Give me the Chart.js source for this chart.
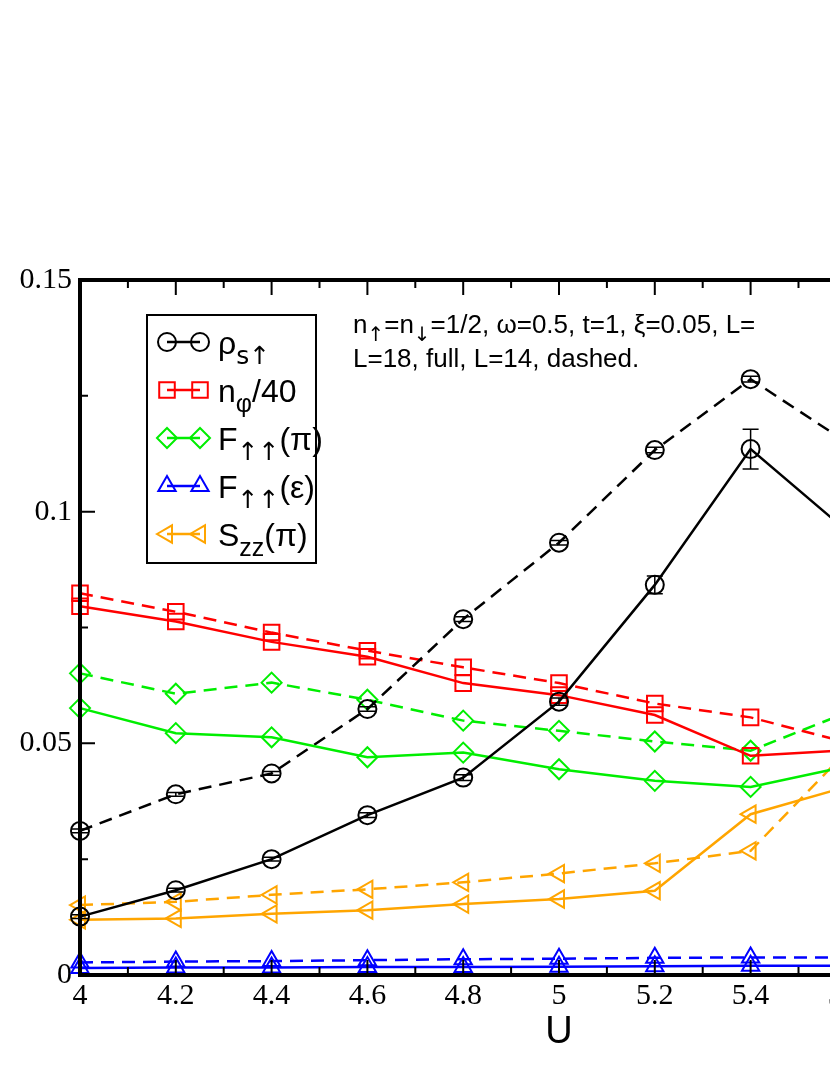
<!DOCTYPE html>
<html>
<head>
<meta charset="utf-8">
<script src="https://cdn.jsdelivr.net/npm/chart.js@4/dist/chart.umd.min.js"></script>
<style>
html, body { margin: 0; padding: 0; background: #fff; overflow: hidden; }
#contenedor { width: 1130px; height: 1075px; }
</style>
</head>
<body>
<div id="contenedor"><canvas id="grafica" width="1130" height="1075"></canvas></div>
<script>
// Valores de U (eje x)
const valoresU = [4, 4.2, 4.4, 4.6, 4.8, 5, 5.2, 5.4, 5.6];

// L=18, linea continua
const rhoL18 = [0.0126, 0.0183, 0.0250, 0.0345, 0.0426, 0.0590, 0.0842, 0.1135, 0.0959];
const rhoL18Err = [0.0004, 0.0004, 0.0004, 0.0005, 0.0006, 0.0008, 0.0019, 0.0043, 0.0030];
const nphiL18 = [0.0796, 0.0763, 0.0719, 0.0687, 0.0630, 0.0604, 0.0561, 0.0473, 0.0485];
const fPiL18 = [0.0576, 0.0522, 0.0513, 0.0470, 0.0480, 0.0444, 0.0419, 0.0406, 0.0450];
const fEpsL18 = [0.0015, 0.0016, 0.0016, 0.0017, 0.0017, 0.0018, 0.0019, 0.0020, 0.0020];
const szzL18 = [0.0119, 0.0122, 0.0132, 0.0140, 0.0153, 0.0164, 0.0182, 0.0347, 0.0406];

// L=14, linea discontinua
const rhoL14 = [0.0311, 0.0390, 0.0435, 0.0574, 0.0768, 0.0933, 0.1133, 0.1286, 0.1150];
const rhoL14Err = [0.0004, 0.0004, 0.0004, 0.0005, 0.0005, 0.0005, 0.0006, 0.0006, 0.0006];
const nphiL14 = [0.0824, 0.0784, 0.0739, 0.0700, 0.0664, 0.0630, 0.0586, 0.0556, 0.0502];
const fPiL14 = [0.0651, 0.0607, 0.0631, 0.0594, 0.0549, 0.0527, 0.0504, 0.0484, 0.0566];
const fEpsL14 = [0.0027, 0.0029, 0.0030, 0.0032, 0.0034, 0.0035, 0.0037, 0.0038, 0.0038];
const szzL14 = [0.0151, 0.0158, 0.0173, 0.0185, 0.0200, 0.0219, 0.0241, 0.0268, 0.0482];

// Marcas de los ejes
const xTicks = [4, 4.2, 4.4, 4.6, 4.8, 5, 5.2, 5.4, 5.6, 5.8, 6];
const xTickLabels = ['4', '4.2', '4.4', '4.6', '4.8', '5', '5.2', '5.4', '5.6', '5.8', '6'];
const yTicks = [0, 0.05, 0.1, 0.15];
const yTickLabels = ['0', '0.05', '0.1', '0.15'];

// Textos
const tituloX = 'U';
const leyendaTextos = [
    [['ρ', ''], ['s↑', 'sub']],
    [['n', ''], ['φ', 'sub'], ['/40', '']],
    [['F', ''], ['↑↑', 'sub'], ['(π)', '']],
    [['F', ''], ['↑↑', 'sub'], ['(ε)', '']],
    [['S', ''], ['zz', 'sub'], ['(π)', '']]
];
const notaLinea1 = [['n', ''], ['↑', 'sub'], ['=n', ''], ['↓', 'sub'], ['=1/2, ω=0.5, t=1, ξ=0.05, L=', '']];
const notaLinea2 = [['L=18, full, L=14, dashed.', '']];

function puntos(valores) {
    return valores.map((v, i) => ({ x: valoresU[i], y: v }));
}

function serie(valores, color, estilo, discontinua, rotacion) {
    return {
        data: puntos(valores),
        borderColor: color,
        borderWidth: 2.5,
        borderDash: discontinua ? [13, 8] : [],
        pointStyle: estilo,
        pointRotation: rotacion || 0,
        pointRadius: estilo === 'rect' ? 11 : (estilo === 'circle' ? 9 : 10),
        pointBorderWidth: 2,
        pointBorderColor: color,
        pointBackgroundColor: 'rgba(0,0,0,0)',
        tension: 0,
        clip: false
    };
}

const datasets = [
    serie(rhoL18, '#000000', 'circle', false),
    serie(nphiL18, '#ff0000', 'rect', false),
    serie(fPiL18, '#00ee00', 'rectRot', false),
    serie(fEpsL18, '#0000ff', 'triangle', false),
    serie(szzL18, '#ffa500', 'triangle', false, -90),
    serie(rhoL14, '#000000', 'circle', true),
    serie(nphiL14, '#ff0000', 'rect', true),
    serie(fPiL14, '#00ee00', 'rectRot', true),
    serie(fEpsL14, '#0000ff', 'triangle', true),
    serie(szzL14, '#ffa500', 'triangle', true, -90)
];

const erroresPorSerie = { 0: rhoL18Err, 5: rhoL14Err };

function escribirPartes(ctx, partes, x, y, tam, tamSub, bajada) {
    partes.forEach(([texto, tipo]) => {
        const esSub = tipo === 'sub';
        // las flechas se ven mas altas en DejaVu
        const familia = /[↑↓]/.test(texto) ? '"DejaVu Sans", sans-serif' : '"Liberation Sans", Arial, sans-serif';
        ctx.font = (esSub ? tamSub : tam) + 'px ' + familia;
        ctx.fillText(texto, x, esSub ? y + bajada : y);
        x += ctx.measureText(texto).width;
    });
}

// Barras de error (solo rho)
const barrasError = {
    id: 'barrasError',
    afterDatasetsDraw(chart) {
        const ctx = chart.ctx;
        const escalaY = chart.scales.y;
        ctx.save();
        ctx.strokeStyle = '#000';
        ctx.lineWidth = 1.5;
        Object.keys(erroresPorSerie).forEach(k => {
            const meta = chart.getDatasetMeta(Number(k));
            const errs = erroresPorSerie[k];
            const datos = chart.data.datasets[k].data;
            meta.data.forEach((p, i) => {
                const y1 = escalaY.getPixelForValue(datos[i].y + errs[i]);
                const y2 = escalaY.getPixelForValue(datos[i].y - errs[i]);
                ctx.beginPath();
                ctx.moveTo(p.x, y1); ctx.lineTo(p.x, y2);
                ctx.moveTo(p.x - 8, y1); ctx.lineTo(p.x + 8, y1);
                ctx.moveTo(p.x - 8, y2); ctx.lineTo(p.x + 8, y2);
                ctx.stroke();
            });
        });
        ctx.restore();
    }
};

// Marco y marcas hacia dentro, estilo xmgrace
const marcoEjes = {
    id: 'marcoEjes',
    afterDatasetsDraw(chart) {
        const { ctx, chartArea: a, scales: { x, y } } = chart;
        ctx.save();
        ctx.strokeStyle = '#000';
        ctx.lineWidth = 2;
        ctx.beginPath();
        for (let i = 0; i <= 20; i++) {
            const px = x.getPixelForValue(4 + i * 0.1);
            const largo = i % 2 === 0 ? 15 : 8;
            ctx.moveTo(px, a.bottom); ctx.lineTo(px, a.bottom - largo);
            ctx.moveTo(px, a.top); ctx.lineTo(px, a.top + largo);
        }
        for (let i = 0; i <= 6; i++) {
            const py = y.getPixelForValue(i * 0.025);
            const largo = i % 2 === 0 ? 15 : 8;
            ctx.moveTo(a.left, py); ctx.lineTo(a.left + largo, py);
            ctx.moveTo(a.right, py); ctx.lineTo(a.right - largo, py);
        }
        ctx.stroke();
        ctx.lineWidth = 4;
        ctx.strokeRect(a.left, a.top, a.right - a.left, a.bottom - a.top);

        // titulo del eje x
        ctx.fillStyle = '#000';
        ctx.font = '38px "Liberation Sans", Arial, sans-serif';
        ctx.textAlign = 'center';
        ctx.textBaseline = 'alphabetic';
        ctx.fillText(tituloX, x.getPixelForValue(5), 1043);
        ctx.restore();
    }
};

// Leyenda propia con subindices
const leyendaPropia = {
    id: 'leyendaPropia',
    afterDraw(chart) {
        const ctx = chart.ctx;
        ctx.save();
        ctx.fillStyle = '#fff';
        ctx.fillRect(147, 315, 169, 248);
        ctx.strokeStyle = '#000';
        ctx.lineWidth = 2;
        ctx.strokeRect(147, 315, 169, 248);
        leyendaTextos.forEach((partes, i) => {
            const ds = chart.data.datasets[i];
            const y = 342 + i * 48;
            ctx.strokeStyle = ds.borderColor;
            ctx.lineWidth = 2.5;
            ctx.setLineDash([]);
            ctx.beginPath();
            ctx.moveTo(167, y); ctx.lineTo(200, y);
            ctx.stroke();
            [167, 200].forEach(px => {
                ctx.strokeStyle = ds.borderColor;
                ctx.fillStyle = 'rgba(0,0,0,0)';
                ctx.lineWidth = 2;
                Chart.helpers.drawPoint(ctx, {
                    pointStyle: ds.pointStyle,
                    rotation: ds.pointRotation,
                    radius: ds.pointRadius,
                    borderWidth: 2
                }, px, y);
            });
            ctx.fillStyle = '#000';
            ctx.textAlign = 'left';
            ctx.textBaseline = 'alphabetic';
            escribirPartes(ctx, partes, 218, y + 12, 32, 25, 10);
        });

        // nota con parametros
        ctx.fillStyle = '#000';
        escribirPartes(ctx, notaLinea1, 353, 333, 26, 20, 8);
        escribirPartes(ctx, notaLinea2, 353, 367, 26, 20, 8);
        ctx.restore();
    }
};

const grafica = new Chart(document.getElementById('grafica'), {
    type: 'line',
    data: { datasets: datasets },
    options: {
        responsive: false,
        animation: false,
        layout: { padding: { top: 280, right: 92, left: 0, bottom: 0 } },
        plugins: {
            legend: { display: false },
            tooltip: { enabled: false }
        },
        scales: {
            x: {
                type: 'linear',
                min: 4,
                max: 6,
                grid: { display: false, drawTicks: false },
                border: { display: false },
                afterBuildTicks: s => { s.ticks = xTicks.map(v => ({ value: v })); },
                afterFit: s => { s.height = 100; },
                ticks: {
                    padding: 6,
                    color: '#000',
                    maxRotation: 0,
                    autoSkip: false,
                    font: { family: '"Liberation Serif", "Times New Roman", serif', size: 30, lineHeight: 1 },
                    callback: (v, i) => xTickLabels[i]
                }
            },
            y: {
                type: 'linear',
                min: 0,
                max: 0.15,
                grid: { display: false, drawTicks: false },
                border: { display: false },
                afterBuildTicks: s => { s.ticks = yTicks.map(v => ({ value: v })); },
                afterFit: s => { s.width = 80; },
                ticks: {
                    padding: 8,
                    color: '#000',
                    autoSkip: false,
                    font: { family: '"Liberation Serif", "Times New Roman", serif', size: 30, lineHeight: 1 },
                    callback: (v, i) => yTickLabels[i]
                }
            }
        }
    },
    plugins: [barrasError, marcoEjes, leyendaPropia]
});
</script>
</body>
</html>
